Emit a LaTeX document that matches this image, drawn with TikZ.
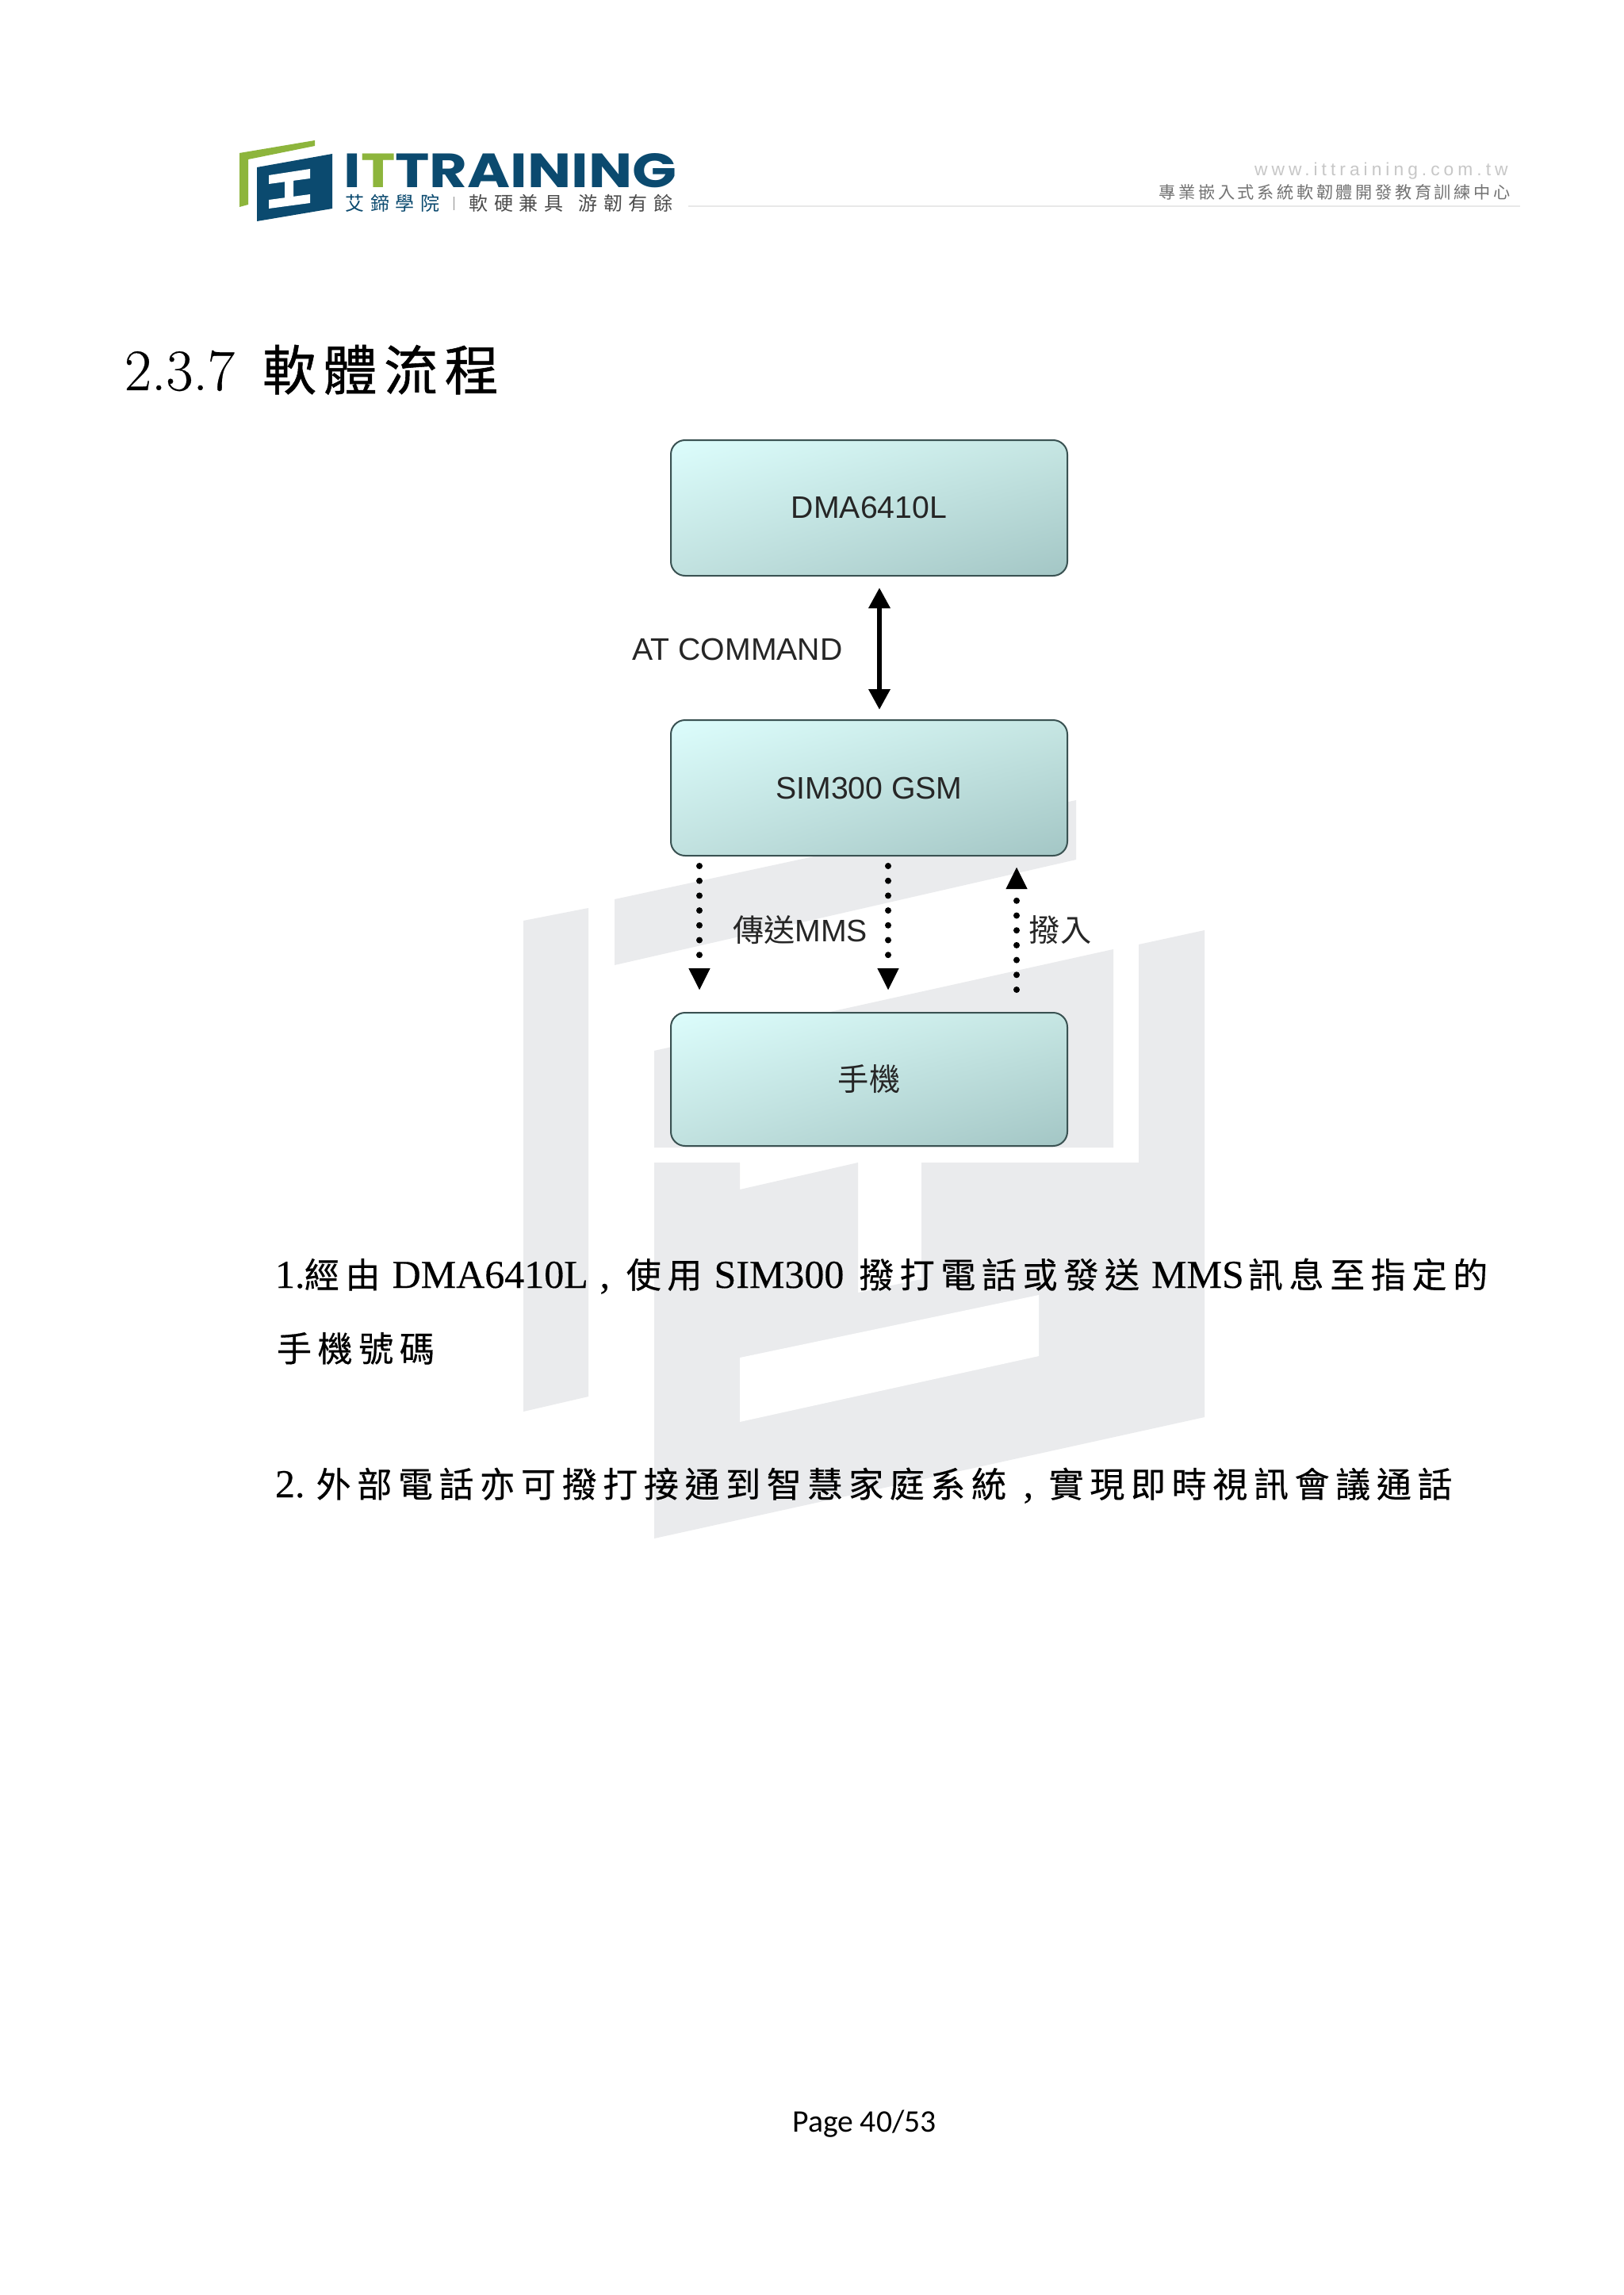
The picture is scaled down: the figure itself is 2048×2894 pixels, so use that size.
\documentclass[tikz,border=0pt]{standalone}
\usepackage{fontspec}
\usetikzlibrary{arrows.meta,shadings}
\setmainfont{Liberation Serif}
\newfontfamily\lab{Liberation Sans}
\newfontfamily\foot{Carlito}
\newfontfamily\heavy{Poppins}
\newfontfamily\titlelatin[FakeBold=0.4]{Latin Modern Roman}
\newfontfamily\bodylatin[FakeBold=0.3]{Liberation Serif}
\newfontfamily\cjk{Noto Sans CJK TC}
\newfontfamily\cjkbody[LetterSpace=17.4,FakeBold=0.4]{Noto Sans CJK TC}
\newfontfamily\cjktitle[LetterSpace=12.6,FakeBold=0.8]{Noto Sans CJK TC}
\newfontfamily\cjklogo[LetterSpace=32]{Noto Sans CJK TC}
\newfontfamily\cjkhead[LetterSpace=17]{Noto Sans CJK TC}
\newfontfamily\urlfont[LetterSpace=22]{Liberation Sans}
\definecolor{wm}{HTML}{EAEBED}
\definecolor{logoblue}{HTML}{0B4A6F}
\definecolor{logogreen}{HTML}{8DB53C}
\definecolor{cul}{HTML}{DCFDFC}
\definecolor{cur}{HTML}{C6E6E3}
\definecolor{cll}{HTML}{C1E1DF}
\definecolor{clr}{HTML}{A3C6C5}
\definecolor{edgec}{HTML}{3A5252}
\newcommand\seg[2]{\makebox[#1pt][l]{#2}}
\newcommand\bodytext{\fontsize{25pt}{28pt}\selectfont\bodylatin}
\newcommand\cb[1]{{\fontsize{22pt}{28pt}\selectfont\cjkbody #1}}
\tikzset{
  flowbox/.style={draw=edgec,line width=1pt,rounded corners=9pt,minimum width=250pt,inner sep=0pt,outer sep=0pt,
    upper left=cul,upper right=cur,lower left=cll,lower right=clr,text=black!85,font=\lab\fontsize{19.6pt}{22pt}\selectfont},
  flowlabel/.style={inner sep=0pt,outer sep=0pt,text=black!85,font=\lab\fontsize{19.6pt}{22pt}\selectfont},
  solidarrow/.style={line width=3.2pt,{Triangle[length=13pt,width=13pt]}-{Triangle[length=13pt,width=13pt]},shorten <=7.5pt,shorten >=6.5pt},
  dotarrow/.style={line width=4pt,line cap=round,dash pattern=on 0pt off 9.35pt,-{Triangle[length=14pt,width=12.5pt]}},
  bodyline/.style={anchor=base west,inner sep=0pt,outer sep=0pt,text=black},
  wmshape/.style={fill=wm,draw=none}
}
\begin{document}
\begin{tikzpicture}[x=0.5pt,y=-0.5pt]
\useasboundingbox[fill=white] (0,0) rectangle (2048,2894);
% watermark
\fill[wmshape] (660,1161) -- (742,1145) -- (742,1761) -- (660,1780) -- cycle;
\fill[wmshape] (775,1134) -- (1357,1009) -- (1357,1084) -- (775,1217) -- cycle;
\fill[wmshape] (825,1325) -- (1404,1197) -- (1404,1447) -- (825,1447) -- cycle;
\fill[wmshape] (1436,1191) -- (1519,1173) -- (1519,1787) -- (825,1940) -- (825,1466) -- (933,1466) -- (933,1500) -- (1082,1466) -- (1082,1630) -- (1162,1613) -- (1162,1466) -- (1436,1466) -- cycle;
\fill[white] (933,1712) -- (1310,1633) -- (1310,1710) -- (933,1793) -- cycle;
% logo
\fill[logogreen] (302,193) -- (397,177) -- (397,184) -- (313,201) -- (313,258) -- (302,261) -- cycle;
\fill[logoblue] (324,211) -- (419,194) -- (419,263) -- (324,279) -- cycle;
\fill[white] (339,221) -- (391,213) -- (391,225) -- (339,232) -- cycle;
\fill[white] (359,228) -- (370,226) -- (370,248) -- (359,250) -- cycle;
\fill[white] (339,252) -- (391,245) -- (391,256) -- (339,263) -- cycle;
\node[anchor=west,inner sep=0pt] (logoname) at (433,215) {\resizebox{210pt}{21.5pt}{\heavy\bfseries\textcolor{logoblue}{I}\textcolor{logogreen}{T}\textcolor{logoblue}{TRAINING}}};
\node[anchor=west,inner sep=0pt,text=logoblue] (logocn) at (435,256) {\fontsize{12pt}{14pt}\selectfont\cjklogo 艾鍗學院};
\fill[black!45] (571.5,248) rectangle (572.5,265);
\node[anchor=west,inner sep=0pt,text=black!70] (logoslogana) at (591,256) {\fontsize{12pt}{14pt}\selectfont\cjklogo 軟硬兼具};
\node[anchor=west,inner sep=0pt,text=black!70] (logosloganb) at (729,256) {\fontsize{12pt}{14pt}\selectfont\cjklogo 游韌有餘};
% header right
\node[anchor=east,inner sep=0pt,text=black!22] (url) at (1902,216) {\fontsize{11.4pt}{13pt}\selectfont\urlfont www.ittraining.com.tw};
\node[anchor=east,inner sep=0pt,text=black!55] (tagline) at (1905,242) {\fontsize{10.6pt}{12pt}\selectfont\cjkhead 專業嵌入式系統軟韌體開發教育訓練中心};
\fill[black!9] (868,259.5) rectangle (1917,261);
% title
\node[bodyline] (title) at (157,492) {\seg{87}{\fontsize{37pt}{40pt}\selectfont\titlelatin 2.3.7}{\fontsize{34pt}{40pt}\selectfont\cjktitle 軟體流程}};
% boxes
\node[flowbox,minimum height=85.5pt] (dma) at (1096,640.5) {\raisebox{-0.7pt}{DMA6410L}};
\node[flowbox,minimum height=85.5pt] (sim) at (1096,993.5) {\raisebox{-1pt}{SIM300 GSM}};
\node[flowbox,minimum height=84pt] (phone) at (1096,1361) {\cjk 手機};
% column positions of the arrows
\coordinate (cmdx) at (1109,0);
\coordinate (leftx) at (882,0);
\coordinate (midx) at (1120,0);
\coordinate (rightx) at (1282,0);
\draw[solidarrow] (cmdx |- dma.south) -- (cmdx |- sim.north);
\draw[dotarrow,shorten <=6.5pt,shorten >=14pt] (leftx |- sim.south) -- (leftx |- phone.north);
\draw[dotarrow,shorten <=6.5pt,shorten >=14pt] (midx |- sim.south) -- (midx |- phone.north);
\draw[dotarrow,shorten <=14.5pt,shorten >=7pt] (rightx |- phone.north) -- (rightx |- sim.south);
% arrow labels
\node[flowlabel] (atcmd) at (930,819) {AT COMMAND};
\node[flowlabel] (mms) at (1009,1173) {\cjk 傳送\lab MMS};
\node[flowlabel] (dialin) at (1337,1173) {\cjk 撥入};
% body
\node[bodyline] (line1) at (347,1624) {\bodytext\seg{18.45}{1.}\seg{55.35}{\cb{經由}}\seg{131}{DMA6410L}\seg{16.6}{,}\seg{55.35}{\cb{使用}}\seg{91.3}{SIM300}\seg{184.5}{\cb{撥打電話或發送}}\seg{60.9}{MMS}\cb{訊息至指定的}};
\node[bodyline] (line2) at (349,1717) {\cb{手機號碼}};
\node[bodyline] (line3) at (347,1888) {\bodytext\seg{25.83}{2.}\seg{462}{\seg{446}{\cb{外部電話亦可撥打接通到智慧家庭系統}},}\cb{實現即時視訊會議通話}};
% footer
\node[anchor=base west,inner sep=0pt] (page) at (999,2688) {\foot\fontsize{19.8pt}{22pt}\selectfont Page 40/53};
\end{tikzpicture}
\end{document}
